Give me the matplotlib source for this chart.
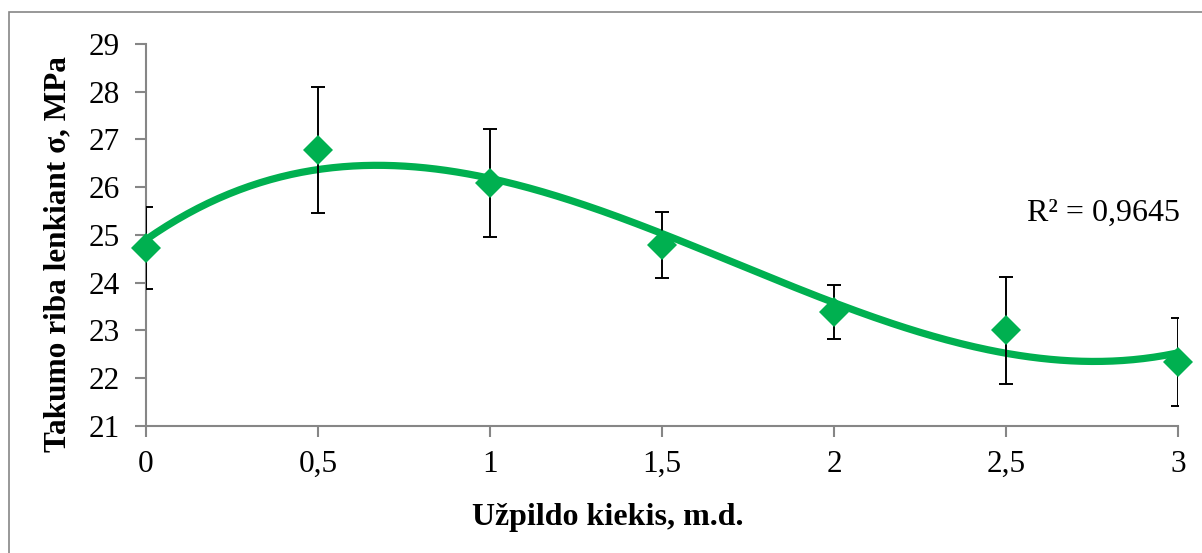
import numpy as np
import matplotlib.pyplot as plt
from matplotlib.patches import Rectangle

# filler amount (m.d.) and yield strength in bending (MPa)
kiekis = [0, 0.5, 1, 1.5, 2, 2.5, 3]
sigma = [24.73, 26.78, 26.09, 24.79, 23.39, 23.01, 22.34]
paklaida = [0.86, 1.32, 1.14, 0.69, 0.57, 1.12, 0.93]
x_ticks = [0, 0.5, 1, 1.5, 2, 2.5, 3]
x_labels = ['0', '0,5', '1', '1,5', '2', '2,5', '3']
y_ticks = [21, 22, 23, 24, 25, 26, 27, 28, 29]
r2_text = 'R² = 0,9645'

plt.rcParams['font.family'] = ['Liberation Serif', 'DejaVu Serif']
green = '#00B050'
grey = '#868686'

fig = plt.figure(figsize=(12.02, 5.53), dpi=100)
fig.patches.append(Rectangle((9 / 1202, -0.1), 1.2, 1.1 - 12 / 553,
                             transform=fig.transFigure, fill=False,
                             edgecolor=grey, linewidth=1.2))
ax = fig.add_axes([146 / 1202, 1 - 426 / 553, 1032 / 1202, 382 / 553])

# 3rd order polynomial trend line
coef = np.polyfit(kiekis, sigma, 3)
xs = np.linspace(0, 3, 300)
ax.plot(xs, np.polyval(coef, xs), color=green, linewidth=5.2,
        solid_capstyle='butt', zorder=2)

ax.errorbar(kiekis, sigma, yerr=paklaida, fmt='none', ecolor='black',
            elinewidth=1.4, capsize=5, capthick=1.4, zorder=3)
ax.plot(kiekis, sigma, linestyle='none', marker='D', markersize=15.5,
        color=green, markeredgewidth=0, zorder=4, clip_on=False)

ax.set_xlim(0, 3)
ax.set_ylim(21, 29)
ax.set_xticks(x_ticks)
ax.set_xticklabels(x_labels)
ax.set_yticks(y_ticks)
for side in ['top', 'right']:
    ax.spines[side].set_visible(False)
for side in ['left', 'bottom']:
    ax.spines[side].set_color(grey)
    ax.spines[side].set_linewidth(1.5)
ax.tick_params(axis='both', colors=grey, length=8, width=1.5,
               labelcolor='black', labelsize=22.5)
ax.tick_params(axis='x', pad=9)
ax.tick_params(axis='y', pad=11)

ax.set_xlabel('Užpildo kiekis, m.d.', fontsize=23, fontweight='bold')
ax.set_ylabel('Takumo riba lenkiant σ, MPa', fontsize=22.5,
              fontweight='bold')
ax.xaxis.set_label_coords(0.447, -0.202)
ax.yaxis.set_label_coords(-0.0717, 0.45)
fig.text(1180 / 1202, 1 - 213 / 553, r2_text, fontsize=23,
         ha='right', va='center')

fig.savefig('out.png', dpi=100)
